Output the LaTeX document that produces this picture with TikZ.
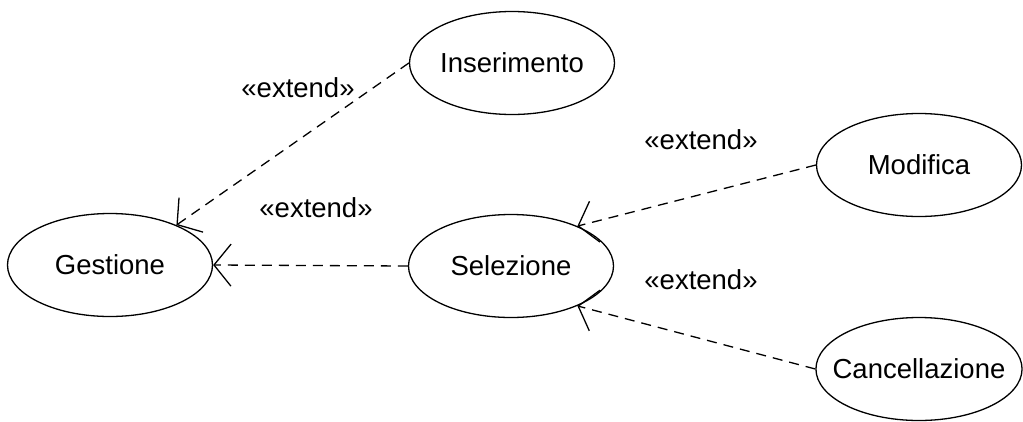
\documentclass[tikz,border=0pt]{standalone}
\usepackage{fontspec}
\setmainfont{Liberation Sans}
\usetikzlibrary{shapes.geometric,arrows.meta}
\tikzset{
  uc/.style={draw, ellipse, line width=1.3pt, minimum width=205pt, minimum height=103pt, inner sep=0pt, font=\fontsize{27.5}{33}\selectfont},
  ext/.style={draw, line width=1.3pt, dash pattern=on 10pt off 7pt, -{Straight Barb[length=17pt,width=42pt,line width=1.3pt]}},
  lbl/.style={font=\fontsize{27.5}{33}\selectfont, inner sep=0pt}
}
\begin{document}
\begin{tikzpicture}[x=1pt,y=-1pt]
\useasboundingbox (0,0) rectangle (1023,421);
\node[uc] (ges) at (110,265) {Gestione};
\node[uc] (ins) at (512,63) {Inserimento};
\node[uc] (sel) at (511,266) {Selezione};
\node[uc] (mod) at (919,165) {Modifica};
\node[uc, inner xsep=-13.5pt] (can) at (919,369) {Cancellazione};
\draw[ext] (ins.west) -- (ges.31);
\draw[ext] (sel.west) -- (ges.east);
\draw[ext] (mod.west) -- (sel.31);
\draw[ext] (can.west) -- (sel.-31);
\node[lbl] (l1) at (298,88) {«extend»};
\node[lbl] (l2) at (316,208) {«extend»};
\node[lbl] (l3) at (701,140) {«extend»};
\node[lbl] (l4) at (701,280) {«extend»};
\end{tikzpicture}
\end{document}
